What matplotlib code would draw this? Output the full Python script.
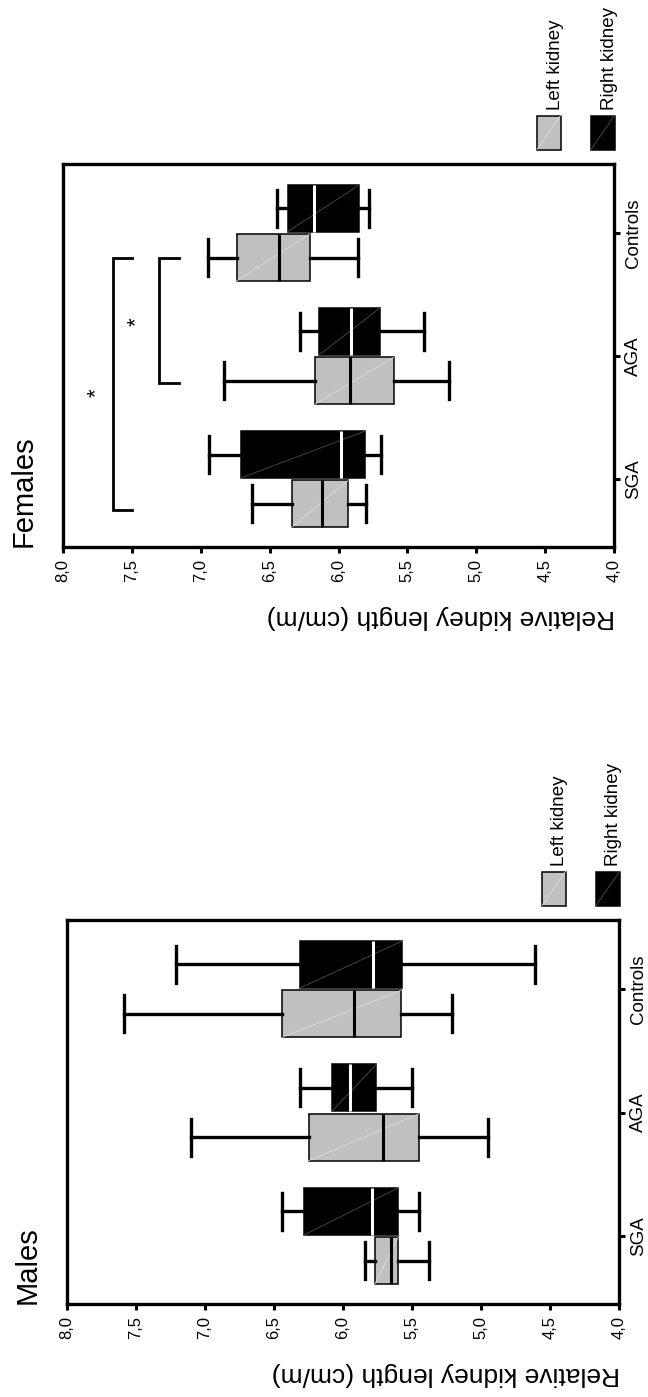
import matplotlib
matplotlib.use('Agg')
import matplotlib.pyplot as plt
from matplotlib.patches import Rectangle
from matplotlib.lines import Line2D

plt.rcParams['font.family'] = ['Liberation Sans', 'DejaVu Sans']

W, H = 648, 1397

groups = ['SGA', 'AGA', 'Controls']
value_ticks = [8.0, 7.5, 7.0, 6.5, 6.0, 5.5, 5.0, 4.5, 4.0]
value_labels = ['8,0', '7,5', '7,0', '6,5', '6,0', '5,5', '5,0', '4,5', '4,0']

# box summaries: whisker low, q1, median, q3, whisker high
male_left_lo = [5.38, 4.95, 5.21]
male_left_q1 = [5.60, 5.45, 5.58]
male_left_med = [5.65, 5.71, 5.92]
male_left_q3 = [5.77, 6.25, 6.44]
male_left_hi = [5.84, 7.10, 7.59]

male_right_lo = [5.45, 5.50, 4.61]
male_right_q1 = [5.60, 5.76, 5.57]
male_right_med = [5.79, 5.95, 5.78]
male_right_q3 = [6.28, 6.08, 6.31]
male_right_hi = [6.44, 6.31, 7.21]

female_left_lo = [5.80, 5.20, 5.86]
female_left_q1 = [5.93, 5.60, 6.21]
female_left_med = [6.12, 5.92, 6.43]
female_left_q3 = [6.34, 6.17, 6.74]
female_left_hi = [6.63, 6.83, 6.95]

female_right_lo = [5.69, 5.38, 5.78]
female_right_q1 = [5.81, 5.70, 5.85]
female_right_med = [5.98, 5.91, 6.18]
female_right_q3 = [6.71, 6.14, 6.37]
female_right_hi = [6.94, 6.28, 6.45]

# significance brackets in the female panel (group position from/to, level)
sig_from = [0.75, 1.78]
sig_to = [2.80, 2.80]
sig_level = [7.64, 7.30]
sig_star_pos = [1.70, 2.28]
sig_star_level = [7.76, 7.47]

GRAY = '#c0c0c0'
BLACK = '#000000'
BW = 0.38
OFF = 0.2


def make_stats(lo, q1, med, q3, hi):
    return [dict(whislo=a, q1=b, med=c, q3=d, whishi=e, fliers=[])
            for a, b, c, d, e in zip(lo, q1, med, q3, hi)]


def draw_boxes(ax, st, pos, face, med_color, diag_color):
    ax.bxp(st, positions=pos, widths=BW, orientation='horizontal',
           patch_artist=True, showfliers=False, manage_ticks=False,
           capwidths=0.3,
           boxprops=dict(facecolor=face, edgecolor='black', linewidth=1.1),
           whiskerprops=dict(color='black', linewidth=2.4),
           capprops=dict(color='black', linewidth=2.4),
           medianprops=dict(color=med_color, linewidth=2.2, zorder=3))
    for s, p in zip(st, pos):
        ax.plot([s['q3'], s['q1']], [p - BW / 2, p + BW / 2],
                color=diag_color, lw=0.5, zorder=2.5)


def panel(rect, left, right, title):
    x0, y0, x1, y1 = rect
    ax = fig.add_axes([x0 / W, 1 - y1 / H, (x1 - x0) / W, (y1 - y0) / H])
    base = [1, 2, 3]
    draw_boxes(ax, left, [b - OFF for b in base], GRAY, 'black', '#e2e2e2')
    draw_boxes(ax, right, [b + OFF for b in base], BLACK, 'white', '#5a5a5a')

    ax.set_xlim(8, 4)
    ax.set_ylim(0.45, 3.56)
    ax.set_xticks(value_ticks, value_labels, rotation=90, fontsize=12)
    ax.yaxis.tick_right()
    ax.set_yticks(base, groups, rotation=90, va='center', fontsize=13.5)
    ax.tick_params(axis='x', length=4.5, width=2.2, pad=4)
    ax.tick_params(axis='y', length=4.3, width=2.2, pad=3.5)
    for sp in ax.spines.values():
        sp.set_linewidth(2.4)

    fig.text((x0 - 39.5) / W, 1 - y1 / H, title, rotation=90,
             ha='center', va='bottom', fontsize=21)
    fig.text((x1 + 1) / W, 1 - (y1 + 70) / H, 'Relative kidney length (cm/m)',
             rotation=180, ha='right', va='center', fontsize=19)

    # legend drawn beside the panel, turned like the rest of the chart
    for dx, face, diag, label in [(-77, GRAY, '#e2e2e2', 'Left kidney'),
                                  (-23, BLACK, '#5a5a5a', 'Right kidney')]:
        px0, px1 = x1 + dx, x1 + dx + 23.5
        py0, py1 = y0 - 48.5, y0 - 14.5
        fig.add_artist(Rectangle((px0 / W, 1 - py1 / H), (px1 - px0) / W,
                                 (py1 - py0) / H, transform=fig.transFigure,
                                 facecolor=face, edgecolor='black', lw=1.1))
        fig.add_artist(Line2D([px0 / W, px1 / W], [1 - py1 / H, 1 - py0 / H],
                              transform=fig.transFigure, color=diag, lw=0.5))
        fig.text((px1 + 3) / W, 1 - (y0 - 54) / H, label, rotation=90,
                 ha='right', va='bottom', fontsize=13.5)
    return ax


fig = plt.figure(figsize=(W / 100, H / 100), dpi=100)

ax_f = panel((63, 164, 614, 547),
             make_stats(female_left_lo, female_left_q1, female_left_med,
                        female_left_q3, female_left_hi),
             make_stats(female_right_lo, female_right_q1, female_right_med,
                        female_right_q3, female_right_hi),
             'Females')

for a, b, lev, sp, sl in zip(sig_from, sig_to, sig_level,
                             sig_star_pos, sig_star_level):
    ax_f.plot([lev - 0.14, lev, lev, lev - 0.14], [a, a, b, b],
              color='black', lw=2.0, solid_joinstyle='miter')
    ax_f.text(sl, sp, '*', rotation=90, ha='center', va='center', fontsize=16)

panel((67, 920, 619, 1304),
      make_stats(male_left_lo, male_left_q1, male_left_med,
                 male_left_q3, male_left_hi),
      make_stats(male_right_lo, male_right_q1, male_right_med,
                 male_right_q3, male_right_hi),
      'Males')

fig.savefig('out.png', dpi=100)
